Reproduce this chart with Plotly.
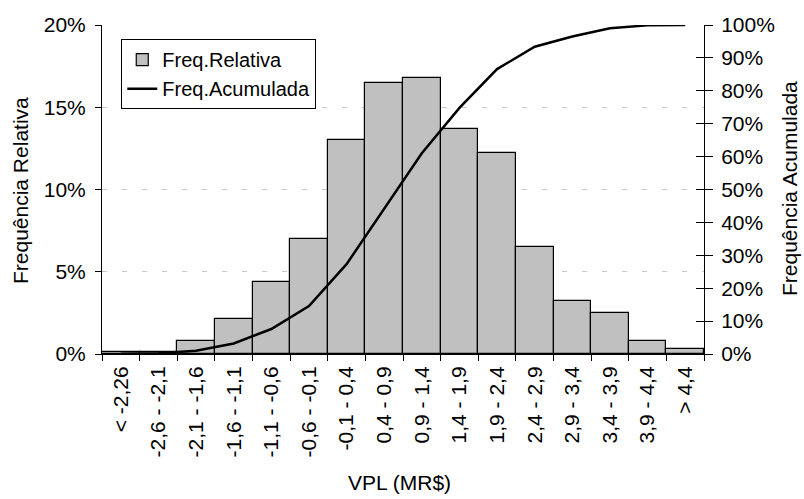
import plotly.graph_objects as go

categories = ["< -2,26", "-2,6 - -2,1", "-2,1 - -1,6", "-1,6 - -1,1", "-1,1 - -0,6",
              "-0,6 - -0,1", "-0,1 - 0,4", "0,4 - 0,9", "0,9 - 1,4", "1,4 - 1,9",
              "1,9 - 2,4", "2,4 - 2,9", "2,9 - 3,4", "3,4 - 3,9", "3,9 - 4,4", "> 4,4"]
freq_relativa = [0.1, 0.1, 0.8, 2.1, 4.4, 7.0, 13.0, 16.5, 16.8, 13.7, 12.2, 6.5, 3.2, 2.5, 0.8, 0.28]
freq_acumulada = [0.1, 0.2, 1.0, 3.2, 7.6, 14.6, 27.3, 44.0, 61.0, 74.8, 86.6, 93.4, 96.5, 99.0, 99.9, 100.0]

x_title = "VPL (MR$)"
y_title = "Frequência Relativa"
y2_title = "Frequência Acumulada"

FONT = "Liberation Sans, Arial, sans-serif"

fig = go.Figure()
fig.add_trace(go.Bar(
    x=categories, y=freq_relativa, name="Freq.Relativa",
    marker=dict(color="#C0C0C0", line=dict(color="black", width=1.2)),
    yaxis="y",
))
fig.add_trace(go.Scatter(
    x=categories, y=freq_acumulada, name="Freq.Acumulada", mode="lines",
    line=dict(color="black", width=2.5), yaxis="y2",
))
# helper trace on a third axis that only draws the inside half of the right ticks
fig.add_trace(go.Scatter(x=categories, y=freq_acumulada, yaxis="y3", mode="lines",
                         line=dict(width=0), showlegend=False, hoverinfo="skip"))

fig.update_layout(
    width=804, height=499,
    margin=dict(l=102, r=100, t=25, b=145),
    paper_bgcolor="white", plot_bgcolor="white",
    font=dict(family=FONT, size=21, color="black"),
    bargap=0,
    showlegend=True,
    legend=dict(
        x=0.032, y=0.957, xanchor="left", yanchor="top",
        bgcolor="white", bordercolor="black", borderwidth=1,
        font=dict(family=FONT, size=20, color="black"),
        tracegroupgap=0, itemwidth=30,
    ),
    xaxis=dict(
        type="category", tickangle=-90, tickson="boundaries",
        ticks="outside", ticklen=6, tickcolor="black",
        showline=True, linecolor="black", linewidth=1,
        showgrid=False, ticklabelstandoff=3,
        tickfont=dict(size=21),
    ),
    yaxis=dict(
        range=[0, 20], dtick=5, ticksuffix="%",
        ticks="outside", ticklen=6, tickcolor="black",
        showline=True, linecolor="black", linewidth=1,
        showgrid=True, gridcolor="#c8c8c8", griddash="5px,15px", gridwidth=1,
        zeroline=False, ticklabelstandoff=5,
        tickfont=dict(size=21),
    ),
    yaxis2=dict(
        range=[0, 100], dtick=10, ticksuffix="%",
        overlaying="y", side="right",
        ticks="outside", ticklen=8, tickcolor="black",
        showline=True, linecolor="black", linewidth=1,
        showgrid=False, zeroline=False, ticklabelstandoff=4,
        tickfont=dict(size=21),
    ),
    yaxis3=dict(
        range=[0, 100], dtick=10, overlaying="y", side="right",
        ticks="inside", ticklen=8, tickcolor="black",
        showticklabels=False, showgrid=False, zeroline=False, showline=False,
    ),
    annotations=[
        dict(text=x_title, xref="paper", yref="paper", x=0.495, y=-0.392,
             xanchor="center", yanchor="middle", showarrow=False,
             font=dict(family=FONT, size=21, color="black")),
        dict(text=y_title, xref="paper", yref="paper", x=-0.1362, y=0.4954,
             xanchor="center", yanchor="middle", showarrow=False, textangle=-90,
             font=dict(family=FONT, size=21, color="black")),
        dict(text=y2_title, xref="paper", yref="paper", x=1.1412, y=0.5015,
             xanchor="center", yanchor="middle", showarrow=False, textangle=-90,
             font=dict(family=FONT, size=21, color="black")),
    ],
)

fig.write_html("out.html")
